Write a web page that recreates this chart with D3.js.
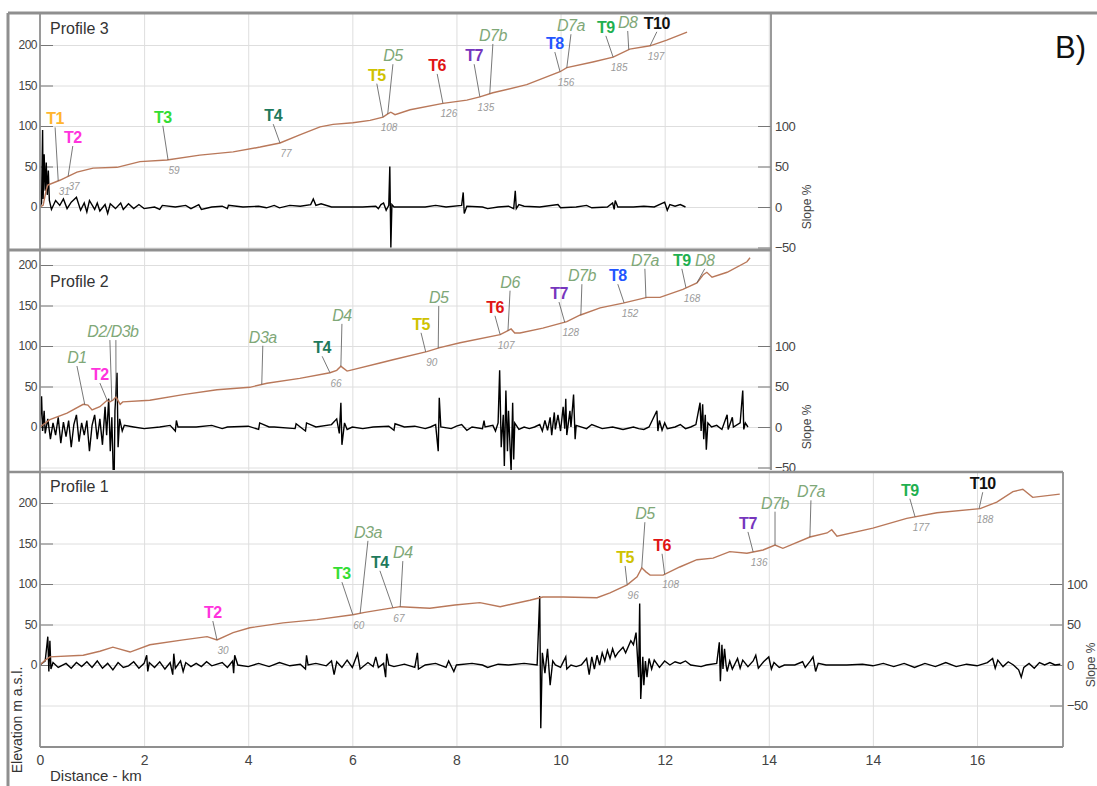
<!DOCTYPE html>
<html>
<head>
<meta charset="utf-8">
<script src="https://cdn.jsdelivr.net/npm/d3@7"></script>
<style>
  body { margin: 0; background: #fff; }
  svg { display: block; font-family: "Liberation Sans", Arial, sans-serif; }
</style>
</head>
<body>
<div id="chart-area"></div>
<script>
// x tick labels as printed (the source repeats "14")
var xTickValues = [0, 2, 4, 6, 8, 10, 12, 14, 16, 18];
var xTickLabels = ["0", "2", "4", "6", "8", "10", "12", "14", "14", "16"];
var elevTicks = [0, 50, 100, 150, 200];
var slopeTicks = [-50, 0, 50, 100];

// [km, elevation m]
var profile3Elev = [[0,0],[0.06,2],[0.12,21],[0.15,27],[0.38,33],[0.71,43],[1.02,48],[1.48,49],[1.92,56],
  [2.44,58],[3.07,64],[3.71,68],[4.23,74],[4.61,79],[4.99,89],[5.38,99],[5.63,102],[6.01,104],[6.34,107],
  [6.59,111],[6.68,115],[6.74,117],[6.82,114],[7.11,120],[7.74,128],[8.2,132],[8.45,136],[8.7,141],
  [9.35,151],[9.99,167],[10.12,172],[10.62,179],[11.01,185],[11.33,195],[11.72,199],[12.04,206],[12.43,216]];
// [km, slope %]
var profile3Slope = [[0,0],[0.03,5],[0.05,95],[0.06,10],[0.08,65],[0.1,20],[0.12,55],[0.14,15],[0.16,45],
  [0.18,8],[0.22,-3],[0.3,8],[0.38,2],[0.45,10],[0.52,-2],[0.6,6],[0.7,12],[0.78,-4],[0.85,5],[0.9,-6],
  [0.95,8],[1.05,-3],[1.1,5],[1.15,-5],[1.25,3],[1.3,-8],[1.35,4],[1.45,-2],[1.55,5],[1.6,-3],[1.7,4],
  [1.8,-2],[1.9,3],[2.0,-2],[2.2,0],[2.3,-3],[2.35,2],[2.6,0],[2.8,2],[2.9,-2],[3.05,3],[3.1,-3],[3.3,0],
  [3.5,1],[3.6,-2],[3.62,2],[3.9,0],[4.2,1],[4.35,-1],[4.5,2],[4.6,-1],[4.8,2],[5.0,1],[5.2,3],[5.25,10],
  [5.3,2],[5.4,4],[5.6,0],[6.0,0],[6.2,0],[6.45,1],[6.5,-2],[6.55,3],[6.6,5],[6.65,-4],[6.7,2],[6.72,50],
  [6.74,-50],[6.76,3],[6.8,0],[7.0,0],[7.4,0],[7.6,2],[7.8,0],[8.1,2],[8.13,18],[8.15,-8],[8.2,1],[8.5,0],
  [8.6,-2],[8.8,0],[9.0,1],[9.1,-2],[9.13,20],[9.15,-2],[9.2,3],[9.3,1],[9.6,0],[9.95,3],[10.0,-1],
  [10.3,0],[10.5,2],[10.6,-1],[10.9,0],[11.0,5],[11.03,-3],[11.05,8],[11.1,0],[11.4,0],[11.6,1],[11.8,0],
  [12.0,6],[12.05,-4],[12.1,3],[12.2,1],[12.3,3],[12.4,0]];
// [label, label km, label elevation, anchor km list, number]
var profile3Notes = [["T1",0.29,102,[0.35],"31"],["T2",0.63,79,[0.54],"37"],["T3",2.36,104,[2.46],"59"],
  ["T4",4.48,106,[4.61],"77"],["T5",6.47,156,[6.59],"108"],["D5",6.78,180,[6.68],""],
  ["T6",7.63,168,[7.74],"126"],["T7",8.34,180,[8.45],"135"],["D7b",8.7,205,[8.64],""],
  ["T8",9.89,195,[9.99],"156"],["D7a",10.2,217,[10.12],""],["T9",10.87,215,[11.01],"185"],
  ["D8",11.29,221,[11.31],""],["T10",11.85,220,[11.72],"197"]];

var profile2Elev = [[0,0],[0.19,9],[0.52,17],[0.83,28],[0.92,27],[1.0,21],[1.15,25],[1.29,33],[1.34,31],
  [1.4,33],[1.46,37],[1.54,28],[1.59,31],[2.11,33],[2.75,40],[3.4,46],[4.03,49],[4.36,54],[4.99,60],
  [5.57,67],[5.7,70],[5.78,75],[5.82,73],[5.9,69],[6.53,79],[6.78,83],[7.43,93],[7.68,98],[8.07,104],
  [8.84,114],[8.99,119],[9.05,121],[9.12,116],[9.22,116],[9.66,122],[10.12,130],[10.37,138],[10.76,147],
  [11.2,153],[11.66,160],[11.91,160],[12.35,170],[12.62,178],[12.74,188],[12.81,191],[12.91,185],
  [13.2,191],[13.58,204],[13.64,209]];
var profile2Slope = [[0,0],[0.03,38],[0.05,-5],[0.08,20],[0.1,-8],[0.15,10],[0.2,-15],[0.25,5],[0.3,-10],
  [0.35,12],[0.4,-20],[0.45,6],[0.5,-12],[0.55,8],[0.6,-25],[0.65,3],[0.7,15],[0.75,-18],[0.8,5],
  [0.85,-10],[0.9,8],[0.95,-30],[1.0,2],[1.05,15],[1.1,-15],[1.15,10],[1.2,-22],[1.25,25],[1.28,-10],
  [1.32,35],[1.35,-30],[1.38,12],[1.42,-90],[1.44,20],[1.48,67],[1.5,-25],[1.53,10],[1.58,-5],[1.62,2],
  [1.8,0],[2.0,-2],[2.3,0],[2.5,2],[2.6,-5],[2.62,8],[2.65,0],[3.0,0],[3.3,2],[3.5,-2],[3.6,0],[4.0,1],
  [4.2,-3],[4.22,5],[4.4,0],[4.5,0],[4.9,-2],[4.92,4],[5.0,0],[5.1,-5],[5.12,5],[5.3,0],[5.6,3],[5.7,10],
  [5.75,-8],[5.78,30],[5.8,-22],[5.85,5],[5.9,-3],[6.0,0],[6.2,-2],[6.4,0],[6.7,1],[6.8,-4],[6.82,4],
  [7.0,0],[7.2,1],[7.4,-2],[7.5,0],[7.6,3],[7.65,-30],[7.67,36],[7.7,0],[7.9,-2],[8.0,1],[8.1,3],[8.2,-4],
  [8.3,0],[8.5,-2],[8.53,8],[8.55,0],[8.7,2],[8.75,-5],[8.8,5],[8.83,70],[8.86,-25],[8.9,15],[8.92,-48],
  [8.95,45],[8.98,-30],[9.0,20],[9.05,-55],[9.08,30],[9.1,-40],[9.12,5],[9.2,-3],[9.3,0],[9.4,-2],[9.5,0],
  [9.6,3],[9.65,-5],[9.7,8],[9.75,-4],[9.8,12],[9.83,-10],[9.88,18],[9.9,-3],[9.95,15],[10.0,-5],
  [10.05,25],[10.08,-2],[10.1,35],[10.12,-10],[10.18,20],[10.2,0],[10.25,40],[10.28,-15],[10.3,2],
  [10.5,-2],[10.6,3],[10.8,-2],[11.0,0],[11.2,-3],[11.4,0],[11.5,-2],[11.6,-3],[11.7,0],[11.85,20],
  [11.87,-5],[11.9,8],[11.95,-4],[12.0,5],[12.05,-2],[12.2,0],[12.3,3],[12.4,-2],[12.5,0],[12.6,3],
  [12.68,30],[12.7,-5],[12.73,28],[12.75,-15],[12.78,15],[12.8,-28],[12.83,5],[12.9,0],[13.0,2],
  [13.1,-3],[13.2,15],[13.22,-3],[13.3,12],[13.32,0],[13.45,5],[13.5,45],[13.52,-3],[13.55,5],[13.6,0]];
var profile2Notes = [["D1",0.71,79,[0.86],""],["T2",1.15,58,[1.29],""],["D2/D3b",1.4,111,[1.38,1.46],""],
  ["D3a",4.28,104,[4.26],""],["T4",5.42,91,[5.57],"66"],["D4",5.8,131,[5.78],""],
  ["T5",7.32,120,[7.41],"90"],["D5",7.66,153,[7.65],""],["T6",8.74,141,[8.84],"107"],
  ["D6",9.03,172,[8.99],""],["T7",9.97,158,[10.08],"128"],["D7b",10.41,180,[10.39],""],
  ["T8",11.1,180,[11.22],"152"],["D7a",11.62,199,[11.64],""],["T9",12.33,199,[12.41],"168"],
  ["D8",12.77,199,[12.62],""]];

var profile1Elev = [[0,0],[0.1,6],[0.19,10],[0.83,12],[1.15,17],[1.4,22],[1.73,16],[2.11,25],[2.75,31],
  [3.21,35],[3.4,31],[3.71,40],[4.03,46],[4.67,52],[5.32,56],[6.01,62],[6.24,65],[6.53,68],[6.92,72],
  [7.49,70],[7.97,74],[8.45,77],[8.84,72],[9.41,80],[9.66,84],[10.05,84],[10.7,83],[10.95,89],[11.28,99],
  [11.47,109],[11.56,120],[11.64,115],[11.72,111],[11.97,111],[12.29,121],[12.62,130],[12.93,132],
  [13.25,140],[13.58,138],[13.89,142],[14.12,148],[14.27,144],[14.79,158],[15.12,163],[15.21,167],
  [15.31,159],[16.0,169],[16.65,181],[17.23,188],[18.06,193],[18.38,201],[18.69,214],[18.88,217],
  [19.07,207],[19.59,211]];
var profile1Slope = [[0,0],[0.1,5],[0.15,35],[0.17,-8],[0.19,30],[0.21,-5],[0.25,3],[0.35,-3],[0.5,2],
  [0.6,-4],[0.7,3],[0.8,-2],[0.9,4],[1.0,-3],[1.1,5],[1.2,-4],[1.3,2],[1.4,-6],[1.5,3],[1.6,-3],[1.7,-1],
  [1.8,4],[1.9,-4],[2.0,2],[2.05,12],[2.07,-8],[2.1,3],[2.2,-3],[2.3,4],[2.4,-5],[2.5,3],[2.55,-12],
  [2.57,14],[2.6,-4],[2.7,5],[2.75,-8],[2.8,3],[2.9,-2],[3.0,2],[3.1,-2],[3.2,4],[3.3,-1],[3.5,3],
  [3.6,-3],[3.7,5],[3.72,-10],[3.74,12],[3.8,0],[4.0,-2],[4.2,2],[4.4,-2],[4.6,3],[4.8,-1],[5.0,1],
  [5.1,-5],[5.12,12],[5.15,0],[5.3,2],[5.5,-1],[5.6,5],[5.65,-12],[5.7,4],[5.8,-3],[5.9,6],[6.0,-3],
  [6.1,14],[6.15,-5],[6.3,3],[6.4,-2],[6.45,10],[6.5,-3],[6.6,2],[6.64,-15],[6.66,14],[6.7,0],[6.8,-2],
  [7.0,1],[7.2,-3],[7.25,15],[7.27,-5],[7.4,0],[7.6,2],[7.8,-3],[7.85,5],[7.95,-8],[8.0,0],[8.3,2],
  [8.5,0],[8.6,-3],[8.8,1],[9.0,0],[9.3,2],[9.55,0],[9.6,85],[9.62,-78],[9.65,15],[9.7,-10],[9.75,20],
  [9.8,-25],[9.85,5],[9.9,0],[10.0,-3],[10.1,10],[10.12,-5],[10.2,0],[10.3,-2],[10.4,0],[10.5,8],
  [10.55,-12],[10.6,10],[10.65,-5],[10.7,12],[10.75,0],[10.8,15],[10.85,5],[10.9,18],[10.95,8],[11.0,20],
  [11.05,10],[11.1,15],[11.2,22],[11.25,15],[11.35,30],[11.4,25],[11.45,40],[11.5,-15],[11.52,76],
  [11.54,-42],[11.58,10],[11.6,-25],[11.63,5],[11.66,-15],[11.7,8],[11.75,-5],[11.8,6],[11.9,-3],
  [12.0,5],[12.1,0],[12.2,4],[12.3,2],[12.4,5],[12.5,0],[12.7,-2],[12.8,0],[13.0,2],[13.05,28],
  [13.07,-20],[13.1,25],[13.12,-5],[13.15,20],[13.18,0],[13.2,-8],[13.25,5],[13.3,-5],[13.4,8],
  [13.45,-4],[13.5,6],[13.6,-2],[13.7,5],[13.75,12],[13.8,-4],[13.9,4],[14.0,10],[14.05,-5],[14.1,3],
  [14.2,-3],[14.3,0],[14.5,0],[14.65,4],[14.7,-3],[14.8,5],[14.85,10],[14.9,-8],[14.95,2],[15.1,0],
  [15.5,0],[15.8,1],[16.0,-1],[16.2,2],[16.4,-2],[16.6,2],[16.8,-3],[17.0,2],[17.2,-2],[17.4,3],
  [17.6,-2],[17.8,1],[18.0,-1],[18.2,3],[18.3,8],[18.35,-4],[18.4,6],[18.5,-2],[18.6,4],[18.7,0],
  [18.8,-6],[18.85,-15],[18.9,-3],[19.0,2],[19.1,-4],[19.2,3],[19.3,0],[19.4,3],[19.5,0],[19.6,1]];
var profile1Notes = [["T2",3.32,58,[3.4],"30"],["T3",5.8,106,[6.01],"60"],["D3a",6.3,157,[6.15],""],
  ["T4",6.53,120,[6.78],"67"],["D4",6.97,132,[6.92],""],["T5",11.24,126,[11.28],"96"],
  ["D5",11.62,180,[11.56],""],["T6",11.95,141,[12.0],"108"],["T7",13.6,168,[13.7],"136"],
  ["D7b",14.12,193,[14.12],""],["D7a",14.81,207,[14.79],""],["T9",16.71,209,[16.81],"177"],
  ["T10",18.11,217,[18.04],"188"]];

var labelColors = {T1:"#ffb52e", T2:"#ff33dd", T3:"#33dd33", T4:"#1f7a5c", T5:"#cfc200", T6:"#e01414",
  T7:"#7636bd", T8:"#2255ff", T9:"#1fb050", T10:"#111111"};

var width = 1097, height = 786;
var left = 40;
var svg = d3.select("#chart-area").append("svg")
  .attr("width", width).attr("height", height);

var x = d3.scaleLinear().domain([0, 18]).range([left, 977]);

var panels = [
  {title:"Profile 3", titleY:34, top:13, bottom:250, right:771, zero:207, elev:profile3Elev, slope:profile3Slope, notes:profile3Notes},
  {title:"Profile 2", titleY:287, top:250, bottom:470, right:771, zero:427, elev:profile2Elev, slope:profile2Slope, notes:profile2Notes},
  {title:"Profile 1", titleY:492, top:472, bottom:747, right:1063, zero:665, elev:profile1Elev, slope:profile1Slope, notes:profile1Notes}
];

function valueAt(series, km) {
  var i = d3.bisector(function(d) { return d[0]; }).left(series, km);
  if (i <= 0) return series[0][1];
  if (i >= series.length) return series[series.length - 1][1];
  var a = series[i - 1], b = series[i];
  return a[1] + (km - a[0]) / (b[0] - a[0]) * (b[1] - a[1]);
}

panels.forEach(function(p, pi) {
  var y = d3.scaleLinear().domain([0, 200]).range([p.zero, p.zero - 162]);
  var g = svg.append("g");
  var clipId = "clip" + pi;
  svg.append("clipPath").attr("id", clipId).append("rect")
    .attr("x", left).attr("y", p.top).attr("width", p.right - left).attr("height", p.bottom - p.top);

  // grid
  var gridY = [-100, -50, 0, 50, 100, 150, 200].filter(function(v) {
    return y(v) > p.top + 3 && y(v) < p.bottom - 1;
  });
  g.append("g").attr("transform", "translate(" + left + ",0)")
    .call(d3.axisLeft(y).tickValues(gridY).tickSize(-(p.right - left)).tickFormat(""))
    .call(function(s) { s.select(".domain").remove(); s.selectAll("line").attr("stroke", "#dedede"); });
  var gridX = xTickValues.filter(function(v) { return x(v) > left + 2 && x(v) < p.right - 2; });
  g.append("g").attr("transform", "translate(0," + p.bottom + ")")
    .call(d3.axisBottom(x).tickValues(gridX).tickSize(-(p.bottom - p.top)).tickFormat(""))
    .call(function(s) { s.select(".domain").remove(); s.selectAll("line").attr("stroke", "#dedede"); });

  // left elevation axis
  var ya = g.append("g").attr("transform", "translate(" + left + ",0)")
    .call(d3.axisLeft(y).tickValues(elevTicks).tickSize(-13).tickPadding(3));
  ya.select(".domain").remove();
  ya.selectAll("line").attr("stroke", "#777");
  ya.selectAll("text").attr("fill", "#444").attr("font-size", "12px").style("letter-spacing", "-0.5px");

  // right slope axis (same scale as elevation)
  var sa = g.append("g").attr("transform", "translate(" + p.right + ",0)")
    .call(d3.axisRight(y).tickValues(slopeTicks).tickSize(-13).tickPadding(4));
  sa.select(".domain").remove();
  sa.selectAll("line").attr("stroke", "#777");
  sa.selectAll("text").attr("fill", "#444").attr("font-size", "13px").style("letter-spacing", "-0.5px");
  g.append("text")
    .attr("transform", "translate(" + Math.min(p.right + 40, width - 2) + "," + p.zero + ") rotate(-90)")
    .attr("text-anchor", "middle").attr("fill", "#444").attr("font-size", "12px")
    .text("Slope %");

  var line = d3.line()
    .x(function(d) { return x(d[0]); })
    .y(function(d) { return y(d[1]); });

  var plot = g.append("g").attr("clip-path", "url(#" + clipId + ")");
  plot.append("path").datum(p.slope)
    .attr("d", line).attr("fill", "none").attr("stroke", "#000").attr("stroke-width", 1.4);
  plot.append("path").datum(p.elev)
    .attr("d", line).attr("fill", "none").attr("stroke", "#b9785a").attr("stroke-width", 1.4);

  // annotations
  p.notes.forEach(function(n) {
    var isD = n[0].charAt(0) === "D";
    var lx = x(n[1]), ly = y(n[2]);
    n[3].forEach(function(a, ai) {
      g.append("line")
        .attr("x1", lx + (n[3].length > 1 ? (ai ? 3 : -3) : 0)).attr("y1", ly + 3)
        .attr("x2", x(a)).attr("y2", y(valueAt(p.elev, a)))
        .attr("stroke", "#555").attr("stroke-width", 0.8);
    });
    g.append("text")
      .attr("x", lx).attr("y", ly)
      .attr("text-anchor", "middle")
      .attr("font-size", "16px")
      .attr("font-weight", isD ? "normal" : "bold")
      .attr("font-style", isD ? "italic" : "normal")
      .attr("fill", isD ? "#7fa878" : labelColors[n[0]])
      .style("letter-spacing", "-0.5px")
      .text(n[0]);
    if (n[4]) {
      var a0 = n[3][0];
      g.append("text")
        .attr("x", x(a0) + 6).attr("y", y(valueAt(p.elev, a0)) + 14)
        .attr("text-anchor", "middle").attr("font-size", "10px")
        .attr("font-style", "italic").attr("fill", "#9a9a9a")
        .text(n[4]);
    }
  });

  g.append("text").attr("x", 50).attr("y", p.titleY)
    .attr("font-size", "16px").attr("fill", "#333").text(p.title);
});

// x axis on the bottom panel
var xa = svg.append("g").attr("transform", "translate(0,747)")
  .call(d3.axisBottom(x).tickValues(xTickValues).tickSize(0).tickPadding(8)
    .tickFormat(function(d, i) { return xTickLabels[i]; }));
xa.select(".domain").remove();
xa.selectAll("text").attr("fill", "#444").attr("font-size", "14px");

// frame lines
var frame = "#8f8f8f";
function seg(x1, y1, x2, y2, w, c) {
  svg.append("line").attr("x1", x1).attr("y1", y1).attr("x2", x2).attr("y2", y2)
    .attr("stroke", c || frame).attr("stroke-width", w);
}
seg(8, 13, width, 13, 3);
seg(8, 13, 8, height, 3);
seg(8, 250, 771, 250, 3);
seg(8, 472, 1063, 472, 2.5);
seg(left, 13, left, 747, 1.8);
seg(771, 13, 771, 470, 1.8);
seg(1063, 472, 1063, 747, 1.8);
seg(left, 747, 1063, 747, 2);

svg.append("text").attr("x", 50).attr("y", 781)
  .attr("font-size", "15px").attr("fill", "#333").text("Distance - km");
svg.append("text").attr("transform", "translate(22,720) rotate(-90)")
  .attr("text-anchor", "middle").attr("font-size", "14px").attr("fill", "#333")
  .text("Elevation m a.s.l.");
svg.append("text").attr("x", 1055).attr("y", 58)
  .attr("font-size", "31px").attr("fill", "#111").text("B)");
</script>
</body>
</html>
